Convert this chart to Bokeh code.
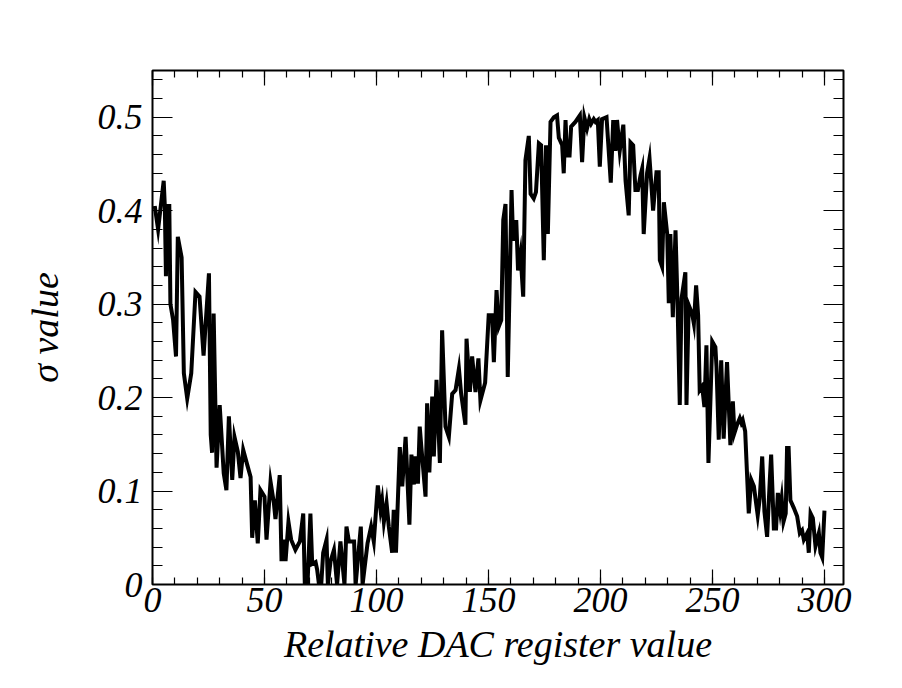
from bokeh.plotting import figure
from bokeh.models import (Range1d, LinearAxis, FixedTicker, CustomJSTickFormatter,
                          BoxAnnotation)
from bokeh.embed import file_html
from bokeh.resources import INLINE

# ---- data ----
dac_values = [
    1, 2.5, 5, 5.5, 6, 6.5, 7.5, 8, 9.2, 10.5,
    11.3, 13, 14, 15.5, 17.3, 19.2, 21, 22.8, 25.2, 26,
    26.6, 27.3, 28.6, 30, 31.8, 33, 34.1, 35.6, 36.6, 38.1,
    39.3, 40.5, 42.3, 43.8, 44.5, 45.7, 47, 48.2, 50, 50.9,
    52.7, 54.2, 54.9, 56.8, 57.6, 58.6, 59.4, 60.7, 61.9, 63.8,
    65.8, 67.3, 68, 69.2, 70.5, 71.3, 72.8, 73.5, 75, 76.2,
    77.7, 78.3, 79.5, 81, 82.4, 83.9, 85.7, 86.6, 87.7, 90,
    90.7, 93, 93.8, 96, 97.6, 98.8, 100.6, 101.8, 102.5, 103.3,
    104.5, 105.5, 107, 107.7, 108.7, 110.4, 111.5, 113, 114.7, 115.6,
    116.7, 117.4, 118.5, 119.3, 120, 121.9, 122.6, 123.6, 124.9, 125.6,
    126.8, 128.3, 129.3, 130.8, 132.3, 133.8, 135.3, 136.8, 137.8, 139.7,
    140.2, 141.7, 142.7, 144.2, 145.5, 146.4, 148.5, 150.1, 151.6, 152.4,
    153.6, 154.6, 155.7, 156.6, 157.6, 158.6, 160.3, 161, 162.4, 163.2,
    164.3, 165.5, 166.5, 168, 168.8, 170.2, 171.2, 172.5, 173.5, 174.7,
    175.7, 176.5, 177.7, 179.2, 180.6, 181.4, 182.9, 183.6, 184.4, 185.1,
    186.2, 186.9, 188.8, 190.8, 191.8, 192.8, 194, 195, 195.8, 197,
    197.8, 198.8, 199.7, 200.7, 202.7, 204.6, 205.7, 206.7, 207.4, 208.6,
    210.2, 211.2, 212.6, 213.4, 214.6, 215.6, 216.7, 217.9, 218.6, 219.3,
    220.8, 221.9, 222.6, 223.5, 225, 226, 226.5, 227.5, 228.3, 229.8,
    230.5, 231.2, 232.3, 233.5, 234.4, 235.4, 236.2, 237.9, 238.4, 239.4,
    240.9, 241.7, 242.7, 243.6, 244.3, 245.4, 246.4, 247.3, 248.2, 249.1,
    249.9, 251.3, 251.8, 252.8, 253.9, 255, 256.5, 258, 259.1, 259.8,
    261, 262.2, 262.9, 263.5, 264.6, 266.2, 267.3, 268.5, 270.2, 271.1,
    272.2, 273.2, 274.4, 275.6, 276.2, 277.4, 278.4, 279.2, 280.2, 280.9,
    281.7, 282.7, 283.3, 284, 284.8, 286.3, 287.8, 289, 290, 290.8,
    292.3, 293, 293.8, 294.8, 296, 297.5, 298.2, 299, 300,
]

sigma_values = [
    0.405, 0.38, 0.432, 0.405, 0.33, 0.405, 0.405, 0.30, 0.283, 0.244,
    0.372, 0.35, 0.226, 0.199, 0.226, 0.313, 0.308, 0.245, 0.333, 0.16,
    0.141, 0.29, 0.125, 0.192, 0.119, 0.101, 0.18, 0.112, 0.158, 0.142,
    0.114, 0.144, 0.128, 0.115, 0.05, 0.09, 0.044, 0.101, 0.094, 0.048,
    0.11, 0.087, 0.07, 0.117, 0.025, 0.048, 0.025, 0.067, 0.048, 0.037,
    0.046, 0.076, 0.0, 0.0, 0.076, 0.022, 0.024, 0.016, -0.013, 0.034,
    0.048, 0.0, 0.025, 0.037, 0.0, 0.046, 0.0, 0.062, 0.046, 0.046,
    0.0, 0.062, 0.0, 0.044, 0.062, 0.046, 0.106, 0.08, 0.09, 0.067,
    0.087, 0.062, 0.034, 0.08, 0.034, 0.147, 0.105, 0.158, 0.064, 0.139,
    0.107, 0.137, 0.108, 0.169, 0.148, 0.094, 0.194, 0.12, 0.201, 0.137,
    0.219, 0.13, 0.272, 0.169, 0.158, 0.204, 0.208, 0.231, 0.204, 0.171,
    0.263, 0.206, 0.244, 0.206, 0.242, 0.197, 0.216, 0.288, 0.288, 0.238,
    0.315, 0.276, 0.283, 0.39, 0.407, 0.222, 0.422, 0.368, 0.39, 0.336,
    0.354, 0.308, 0.454, 0.48, 0.418, 0.413, 0.42, 0.472, 0.47, 0.347,
    0.47, 0.375, 0.495, 0.5, 0.502, 0.478, 0.47, 0.44, 0.497, 0.459,
    0.459, 0.49, 0.495, 0.502, 0.452, 0.5, 0.488, 0.498, 0.493, 0.498,
    0.495, 0.497, 0.447, 0.498, 0.5, 0.43, 0.497, 0.464, 0.497, 0.464,
    0.492, 0.432, 0.395, 0.473, 0.47, 0.422, 0.422, 0.438, 0.445, 0.375,
    0.44, 0.456, 0.432, 0.4, 0.441, 0.441, 0.347, 0.34, 0.409, 0.375,
    0.301, 0.375, 0.286, 0.379, 0.301, 0.192, 0.306, 0.334, 0.192, 0.299,
    0.29, 0.279, 0.32, 0.288, 0.208, 0.212, 0.19, 0.256, 0.13, 0.198,
    0.26, 0.254, 0.233, 0.155, 0.24, 0.156, 0.238, 0.149, 0.196, 0.162,
    0.171, 0.178, 0.173, 0.176, 0.164, 0.076, 0.112, 0.105, 0.074, 0.092,
    0.137, 0.078, 0.051, 0.112, 0.139, 0.06, 0.06, 0.098, 0.079, 0.092,
    0.067, 0.076, 0.146, 0.146, 0.09, 0.082, 0.073, 0.055, 0.058, 0.048,
    0.055, 0.034, 0.076, 0.071, 0.041, 0.055, 0.034, 0.029, 0.079,
]

x_major_ticks = [0, 50, 100, 150, 200, 250, 300]
x_minor_ticks = [0, 10, 20, 30, 40, 50, 60, 70, 80, 90, 100, 110, 120, 130, 140,
                 150, 160, 170, 180, 190, 200, 210, 220, 230, 240, 250, 260,
                 270, 280, 290, 300]
y_major_ticks = [0, 0.1, 0.2, 0.3, 0.4, 0.5]
y_minor_ticks = [0, 0.02, 0.04, 0.06, 0.08, 0.1, 0.12, 0.14, 0.16, 0.18, 0.2,
                 0.22, 0.24, 0.26, 0.28, 0.3, 0.32, 0.34, 0.36, 0.38, 0.4,
                 0.42, 0.44, 0.46, 0.48, 0.5, 0.52, 0.54]
x_title = "Relative DAC register value"
y_title = "\u03c3 value"

assert len(dac_values) == len(sigma_values)

FONT = "Liberation Serif"

p = figure(
    frame_width=691, frame_height=514,
    min_border_left=152, min_border_right=51,
    min_border_top=70, min_border_bottom=96,
    x_range=Range1d(0, 308.5), y_range=Range1d(0, 0.55),
    x_axis_location=None, y_axis_location=None,
    output_backend="svg", toolbar_location=None,
)
p.background_fill_color = "white"
p.border_fill_color = "white"
p.outline_line_color = "black"
p.outline_line_width = 2
p.xgrid.visible = False
p.ygrid.visible = False

# page decoration: dark strips at the top and left edge, faint panel border
for l, r, t, b in [(0, 902, 0, 7), (0, 9, 0, 688)]:
    p.add_layout(BoxAnnotation(left=l, right=r, top=t, bottom=b,
                               left_units="canvas", right_units="canvas",
                               top_units="canvas", bottom_units="canvas",
                               fill_color="#5a5a5a", fill_alpha=1.0,
                               line_color=None, level="underlay"))
p.add_layout(BoxAnnotation(left=32, right=893, top=29, bottom=667,
                           left_units="canvas", right_units="canvas",
                           top_units="canvas", bottom_units="canvas",
                           fill_alpha=0.0, line_color="#dcdcdc",
                           line_width=1, level="underlay"))

p.line(dac_values, sigma_values, line_color="black", line_width=4,
       line_join="miter")

bottom_axis = LinearAxis()
left_axis = LinearAxis()
top_axis = LinearAxis()
right_axis = LinearAxis()
p.add_layout(bottom_axis, "below")
p.add_layout(left_axis, "left")
p.add_layout(top_axis, "above")
p.add_layout(right_axis, "right")


def style_axis(ax, is_x, show_labels):
    if is_x:
        ax.ticker = FixedTicker(ticks=x_major_ticks, minor_ticks=x_minor_ticks)
        ax.major_tick_in = 15
        ax.minor_tick_in = 7
    else:
        ax.ticker = FixedTicker(ticks=y_major_ticks, minor_ticks=y_minor_ticks)
        ax.major_tick_in = 20
        ax.minor_tick_in = 10
    ax.major_tick_out = 0
    ax.minor_tick_out = 0
    ax.axis_line_color = None
    ax.major_tick_line_color = "black"
    ax.minor_tick_line_color = "black"
    ax.major_tick_line_width = 1.2
    ax.minor_tick_line_width = 1.2
    ax.major_label_text_font = FONT
    ax.major_label_text_font_style = "italic"
    ax.major_label_text_font_size = "36px"
    ax.major_label_text_color = "black"
    ax.axis_label_text_font = FONT
    ax.axis_label_text_font_style = "italic"
    ax.axis_label_text_font_size = "38px"
    ax.axis_label_text_color = "black"
    if not show_labels:
        ax.formatter = CustomJSTickFormatter(code="return '';")


style_axis(bottom_axis, True, True)
style_axis(left_axis, False, True)
style_axis(top_axis, True, False)
style_axis(right_axis, False, False)

bottom_axis.axis_label = x_title
bottom_axis.major_label_standoff = 3
bottom_axis.axis_label_standoff = 8
left_axis.axis_label = y_title
left_axis.major_label_standoff = 10
left_axis.axis_label_standoff = 29
left_axis.formatter = CustomJSTickFormatter(
    code="return Math.abs(tick) < 1e-9 ? '0' : tick.toFixed(1);")

open("out.html", "w").write(file_html(p, INLINE))
